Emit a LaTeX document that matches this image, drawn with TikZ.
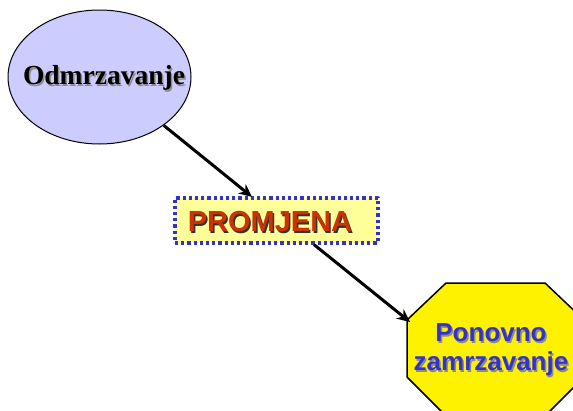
\documentclass[tikz,border=0pt]{standalone}
\usepackage{fontspec}
\setmainfont{Liberation Sans}
\newfontfamily\timesbold{Liberation Serif}[BoldFont={Liberation Serif Bold}]
\usetikzlibrary{arrows.meta,shapes.geometric}
\definecolor{lilac}{HTML}{CCCCFF}
\definecolor{paleyellow}{HTML}{FFFF99}
\definecolor{dotblue}{HTML}{3333CC}
\definecolor{rust}{HTML}{CC3300}
\definecolor{textblue}{HTML}{3333CC}
\tikzset{
	odmtext/.style={font=\timesbold\fontsize{27.5}{30}\selectfont\bfseries},
	promtext/.style={font=\fontsize{29}{32}\selectfont\bfseries},
	zamtext/.style={font=\fontsize{26}{29}\selectfont\bfseries,align=center},
	shadow/.style={shift={(1.5pt,-1.5pt)}}
}
\begin{document}
\begin{tikzpicture}[x=1pt,y=-1pt,>={Stealth[length=13pt,width=12pt]},line join=round]
	\clip (0,0) rectangle (573,410);
	\fill[white] (0,0) rectangle (573,410);
	% stanje 1
	\node[ellipse,draw,fill=lilac,line width=1pt,minimum width=183pt,minimum height=134pt,inner sep=0pt] (odm) at (99.5,77) {};
	\node[odmtext,text=black!45,shadow] (odm-sh) at (104,78) {Odmrzavanje};
	\node[odmtext] (odm-txt) at (104,78) {Odmrzavanje};
	% promjena
	\node[rectangle,fill=paleyellow,draw=dotblue,line width=3.2pt,dash pattern=on 3.2pt off 3pt,minimum width=203pt,minimum height=45pt,inner sep=0pt] (promj) at (276.5,220.5) {};
	\node[promtext,text=black!80,shadow] (promj-sh) at (270,222) {PROMJENA};
	\node[promtext,text=rust] (promj-txt) at (270,222) {PROMJENA};
	% stanje 2
	\coordinate (oct-w) at (407,320);
	\filldraw[fill=yellow,line width=1.5pt] (oct-w) -- (446,283) -- (545,283) -- (584,320)
		-- (584,377) -- (545,416) -- (446,416) -- (407,377) -- cycle;
	\node[zamtext,text=black!45,shadow] (zam-sh) at (491,350) {Ponovno\\zamrzavanje};
	\node[zamtext,text=textblue] (zam) at (491,350) {Ponovno\\zamrzavanje};
	% strelice
	\draw[->,line width=3pt] (odm.-37) -- ([shift={(-24.5pt,-0.5pt)}]promj.north);
	\draw[->,line width=3pt] ([shift={(37.5pt,0pt)}]promj.south) -- ([shift={(3pt,-2pt)}]oct-w);
\end{tikzpicture}
\end{document}
